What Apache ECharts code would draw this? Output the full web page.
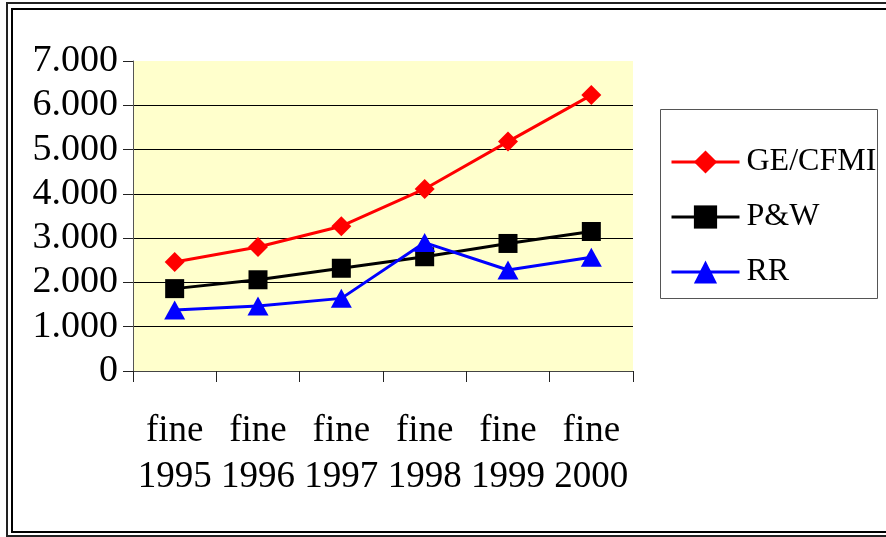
<!DOCTYPE html>
<html>
<head>
<meta charset="utf-8">
<script src="https://cdn.jsdelivr.net/npm/echarts@6/dist/echarts.min.js"></script>
<style>
html,body{margin:0;padding:0;background:#fff;}
#c{width:886px;height:537px;}
</style>
</head>
<body>
<div id="c"></div>
<script>
var categories = ['fine\n1995','fine\n1996','fine\n1997','fine\n1998','fine\n1999','fine\n2000'];
var geCfmi = [2460, 2800, 3270, 4110, 5180, 6230];
var pw = [1860, 2060, 2320, 2580, 2880, 3150];
var rr = [1380, 1470, 1640, 2900, 2280, 2570];
var yTicks = [0, 1000, 2000, 3000, 4000, 5000, 6000, 7000];

var chart = echarts.init(document.getElementById('c'));
var font = 'Liberation Serif, Times New Roman, serif';
chart.setOption({
  animation: false,
  backgroundColor: '#fff',
  graphic: [
    {type:'rect', shape:{x:7, y:3, width:900, height:533}, style:{fill:'none', stroke:'#222', lineWidth:2}},
    {type:'rect', shape:{x:12, y:9, width:900, height:523}, style:{fill:'none', stroke:'#000', lineWidth:2}},
    {type:'rect', shape:{x:660.5, y:109.5, width:217, height:189}, style:{fill:'#fff', stroke:'#555', lineWidth:1}, z:-1}
  ],
  grid: {left:133, top:61, width:500, height:310, show:true, backgroundColor:'#FFFFCC', borderWidth:0},
  legend: {
    orient:'vertical', left:670, top:146, padding:0, itemGap:23,
    itemWidth:68, itemHeight:29,
    lineStyle:{width:3},
    textStyle:{fontFamily:font, fontSize:32, color:'#000', padding:[0,0,0,2]},
    data:['GE/CFMI','P&W','RR']
  },
  xAxis: {
    type:'category', data:categories, boundaryGap:true,
    axisLine:{lineStyle:{color:'#444', width:1}},
    axisTick:{show:true, length:11, alignWithLabel:false, lineStyle:{color:'#222'}},
    axisLabel:{fontFamily:font, fontSize:37, lineHeight:46, color:'#000', margin:37, interval:0}
  },
  yAxis: {
    type:'value', min:0, max:7000, interval:1000,
    axisLine:{show:true, lineStyle:{color:'#555', width:1}},
    axisTick:{show:true, length:10, lineStyle:{color:'#222'}},
    splitLine:{show:true, showMaxLine:false, lineStyle:{color:'#000', width:1}},
    axisLabel:{fontFamily:font, fontSize:38, color:'#000', margin:15,
      formatter:function(v){ return v===0 ? '0' : (v/1000)+'.000'; }}
  },
  series: [
    {name:'GE/CFMI', type:'line', data:geCfmi, symbol:'diamond', symbolSize:[20,20],
     lineStyle:{color:'#FF0000', width:3}, itemStyle:{color:'#FF0000'}, z:3},
    {name:'P&W', type:'line', data:pw, symbol:'rect', symbolSize:19,
     lineStyle:{color:'#000000', width:3}, itemStyle:{color:'#000000'}, z:2},
    {name:'RR', type:'line', data:rr, symbol:'triangle', symbolSize:[21,19],
     lineStyle:{color:'#0000FF', width:3}, itemStyle:{color:'#0000FF'}, z:4}
  ]
});
</script>
</body>
</html>
